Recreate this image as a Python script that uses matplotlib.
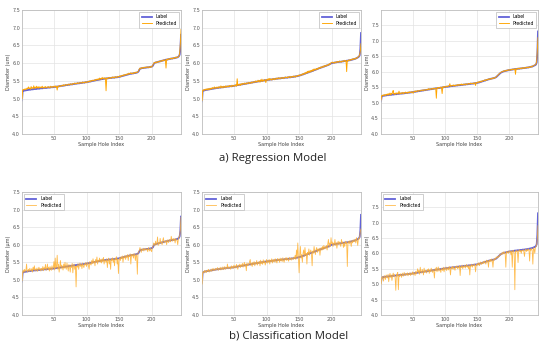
import matplotlib
matplotlib.use("Agg")
import matplotlib.pyplot as plt
import numpy as np

# ---------------- data ----------------
label_a = [
 4.95, 5.21, 5.22, 5.22, 5.23, 5.23, 5.23, 5.24, 5.24, 5.24,
 5.25, 5.25, 5.25, 5.25, 5.26, 5.26, 5.26, 5.26, 5.27, 5.27,
 5.27, 5.27, 5.27, 5.28, 5.28, 5.28, 5.28, 5.28, 5.29, 5.29,
 5.29, 5.29, 5.29, 5.30, 5.30, 5.30, 5.30, 5.30, 5.30, 5.31,
 5.31, 5.31, 5.31, 5.31, 5.32, 5.32, 5.32, 5.32, 5.32, 5.33,
 5.33, 5.33, 5.33, 5.34, 5.34, 5.34, 5.34, 5.35, 5.35, 5.35,
 5.36, 5.36, 5.36, 5.36, 5.37, 5.37, 5.37, 5.38, 5.38, 5.38,
 5.38, 5.39, 5.39, 5.39, 5.40, 5.40, 5.40, 5.40, 5.41, 5.41,
 5.41, 5.42, 5.42, 5.42, 5.42, 5.43, 5.43, 5.43, 5.43, 5.44,
 5.44, 5.44, 5.44, 5.45, 5.45, 5.45, 5.45, 5.46, 5.46, 5.46,
 5.47, 5.47, 5.47, 5.48, 5.48, 5.48, 5.49, 5.49, 5.50, 5.50,
 5.50, 5.51, 5.51, 5.52, 5.52, 5.52, 5.53, 5.53, 5.53, 5.54,
 5.54, 5.54, 5.55, 5.55, 5.55, 5.56, 5.56, 5.56, 5.56, 5.57,
 5.57, 5.57, 5.57, 5.58, 5.58, 5.58, 5.58, 5.58, 5.59, 5.59,
 5.59, 5.59, 5.59, 5.60, 5.60, 5.60, 5.60, 5.61, 5.61, 5.61,
 5.62, 5.62, 5.63, 5.63, 5.64, 5.64, 5.65, 5.65, 5.66, 5.66,
 5.67, 5.67, 5.68, 5.68, 5.69, 5.69, 5.70, 5.70, 5.70, 5.71,
 5.71, 5.71, 5.72, 5.72, 5.72, 5.73, 5.73, 5.74, 5.75, 5.77,
 5.81, 5.84, 5.85, 5.85, 5.86, 5.86, 5.86, 5.87, 5.87, 5.87,
 5.87, 5.88, 5.88, 5.88, 5.88, 5.89, 5.89, 5.89, 5.90, 5.90,
 5.91, 5.93, 5.97, 6.00, 6.01, 6.02, 6.02, 6.03, 6.03, 6.04,
 6.04, 6.05, 6.05, 6.06, 6.06, 6.07, 6.07, 6.08, 6.08, 6.09,
 6.09, 6.10, 6.10, 6.10, 6.11, 6.11, 6.12, 6.12, 6.12, 6.13,
 6.13, 6.13, 6.14, 6.14, 6.14, 6.15, 6.15, 6.16, 6.16, 6.17,
 6.18, 6.20, 6.24, 6.40, 6.80]

label_b = [
 4.92, 5.21, 5.22, 5.23, 5.23, 5.24, 5.24, 5.25, 5.25, 5.25,
 5.26, 5.26, 5.26, 5.27, 5.27, 5.27, 5.28, 5.28, 5.28, 5.29,
 5.29, 5.29, 5.30, 5.30, 5.30, 5.30, 5.31, 5.31, 5.31, 5.31,
 5.32, 5.32, 5.32, 5.32, 5.33, 5.33, 5.33, 5.33, 5.34, 5.34,
 5.34, 5.34, 5.34, 5.35, 5.35, 5.35, 5.35, 5.35, 5.36, 5.36,
 5.36, 5.37, 5.37, 5.37, 5.38, 5.38, 5.38, 5.39, 5.39, 5.39,
 5.40, 5.40, 5.40, 5.41, 5.41, 5.41, 5.42, 5.42, 5.42, 5.43,
 5.43, 5.43, 5.44, 5.44, 5.44, 5.45, 5.45, 5.45, 5.46, 5.46,
 5.46, 5.47, 5.47, 5.47, 5.48, 5.48, 5.48, 5.49, 5.49, 5.49,
 5.50, 5.50, 5.50, 5.50, 5.51, 5.51, 5.51, 5.52, 5.52, 5.52,
 5.52, 5.53, 5.53, 5.53, 5.53, 5.54, 5.54, 5.54, 5.54, 5.55,
 5.55, 5.55, 5.55, 5.56, 5.56, 5.56, 5.56, 5.57, 5.57, 5.57,
 5.57, 5.57, 5.58, 5.58, 5.58, 5.58, 5.58, 5.59, 5.59, 5.59,
 5.59, 5.59, 5.60, 5.60, 5.60, 5.60, 5.60, 5.61, 5.61, 5.61,
 5.61, 5.62, 5.62, 5.62, 5.63, 5.63, 5.63, 5.64, 5.64, 5.65,
 5.65, 5.66, 5.66, 5.67, 5.68, 5.68, 5.69, 5.70, 5.70, 5.71,
 5.72, 5.72, 5.73, 5.74, 5.74, 5.75, 5.76, 5.76, 5.77, 5.78,
 5.78, 5.79, 5.80, 5.81, 5.81, 5.82, 5.83, 5.83, 5.84, 5.85,
 5.86, 5.86, 5.87, 5.88, 5.88, 5.89, 5.90, 5.90, 5.91, 5.92,
 5.92, 5.93, 5.94, 5.94, 5.95, 5.96, 5.97, 5.98, 5.99, 6.00,
 6.00, 6.01, 6.01, 6.01, 6.02, 6.02, 6.02, 6.03, 6.03, 6.03,
 6.03, 6.04, 6.04, 6.04, 6.04, 6.05, 6.05, 6.05, 6.06, 6.06,
 6.06, 6.06, 6.07, 6.07, 6.07, 6.08, 6.08, 6.08, 6.09, 6.09,
 6.10, 6.10, 6.11, 6.11, 6.12, 6.12, 6.13, 6.14, 6.15, 6.16,
 6.17, 6.19, 6.22, 6.40, 6.85]

label_c = [
 5.05, 5.20, 5.22, 5.23, 5.23, 5.23, 5.24, 5.24, 5.24, 5.25,
 5.25, 5.25, 5.25, 5.26, 5.26, 5.26, 5.26, 5.27, 5.27, 5.27,
 5.27, 5.28, 5.28, 5.28, 5.28, 5.29, 5.29, 5.29, 5.29, 5.30,
 5.30, 5.30, 5.30, 5.30, 5.31, 5.31, 5.31, 5.31, 5.32, 5.32,
 5.32, 5.32, 5.33, 5.33, 5.33, 5.33, 5.34, 5.34, 5.34, 5.35,
 5.35, 5.35, 5.36, 5.36, 5.36, 5.37, 5.37, 5.37, 5.38, 5.38,
 5.38, 5.39, 5.39, 5.39, 5.40, 5.40, 5.40, 5.41, 5.41, 5.41,
 5.42, 5.42, 5.42, 5.43, 5.43, 5.43, 5.44, 5.44, 5.44, 5.45,
 5.45, 5.45, 5.46, 5.46, 5.46, 5.47, 5.47, 5.47, 5.48, 5.48,
 5.48, 5.48, 5.49, 5.49, 5.49, 5.50, 5.50, 5.50, 5.51, 5.51,
 5.51, 5.52, 5.52, 5.52, 5.52, 5.53, 5.53, 5.53, 5.54, 5.54,
 5.54, 5.54, 5.55, 5.55, 5.55, 5.55, 5.56, 5.56, 5.56, 5.56,
 5.57, 5.57, 5.57, 5.57, 5.58, 5.58, 5.58, 5.58, 5.59, 5.59,
 5.59, 5.59, 5.60, 5.60, 5.60, 5.60, 5.61, 5.61, 5.61, 5.61,
 5.62, 5.62, 5.62, 5.62, 5.63, 5.63, 5.63, 5.64, 5.64, 5.64,
 5.65, 5.65, 5.66, 5.66, 5.67, 5.68, 5.68, 5.69, 5.70, 5.70,
 5.71, 5.72, 5.72, 5.73, 5.74, 5.74, 5.75, 5.76, 5.76, 5.77,
 5.77, 5.78, 5.78, 5.79, 5.79, 5.80, 5.80, 5.81, 5.82, 5.83,
 5.85, 5.87, 5.89, 5.91, 5.93, 5.95, 5.97, 5.98, 5.99, 6.00,
 6.01, 6.02, 6.02, 6.03, 6.03, 6.04, 6.04, 6.05, 6.05, 6.06,
 6.06, 6.06, 6.07, 6.07, 6.07, 6.08, 6.08, 6.08, 6.09, 6.09,
 6.09, 6.09, 6.10, 6.10, 6.10, 6.10, 6.11, 6.11, 6.11, 6.11,
 6.12, 6.12, 6.12, 6.12, 6.13, 6.13, 6.13, 6.14, 6.14, 6.14,
 6.15, 6.15, 6.16, 6.16, 6.17, 6.17, 6.18, 6.19, 6.20, 6.21,
 6.22, 6.24, 6.30, 6.60, 7.30]

pred_reg_a = [
 5.00, 5.24, 5.26, 5.24, 5.27, 5.25, 5.28, 5.26, 5.30, 5.27,
 5.33, 5.28, 5.30, 5.26, 5.34, 5.29, 5.31, 5.27, 5.36, 5.30,
 5.32, 5.28, 5.35, 5.30, 5.33, 5.29, 5.34, 5.31, 5.30, 5.33,
 5.30, 5.35, 5.31, 5.29, 5.33, 5.31, 5.34, 5.30, 5.32, 5.33,
 5.31, 5.34, 5.32, 5.30, 5.35, 5.33, 5.31, 5.34, 5.32, 5.35,
 5.33, 5.36, 5.32, 5.34, 5.24, 5.35, 5.33, 5.37, 5.35, 5.34,
 5.37, 5.35, 5.38, 5.36, 5.39, 5.36, 5.38, 5.40, 5.37, 5.39,
 5.38, 5.41, 5.39, 5.38, 5.42, 5.40, 5.41, 5.39, 5.43, 5.41,
 5.42, 5.44, 5.41, 5.43, 5.42, 5.45, 5.42, 5.44, 5.43, 5.46,
 5.44, 5.45, 5.43, 5.47, 5.45, 5.46, 5.44, 5.48, 5.46, 5.45,
 5.48, 5.46, 5.49, 5.47, 5.50, 5.48, 5.51, 5.49, 5.52, 5.50,
 5.51, 5.53, 5.50, 5.54, 5.52, 5.55, 5.53, 5.56, 5.52, 5.58,
 5.55, 5.57, 5.54, 5.60, 5.56, 5.58, 5.55, 5.59, 5.57, 5.22,
 5.58, 5.56, 5.59, 5.57, 5.60, 5.58, 5.57, 5.60, 5.58, 5.61,
 5.59, 5.61, 5.58, 5.62, 5.60, 5.61, 5.59, 5.63, 5.61, 5.62,
 5.64, 5.61, 5.65, 5.63, 5.66, 5.64, 5.67, 5.65, 5.68, 5.66,
 5.69, 5.67, 5.70, 5.68, 5.72, 5.69, 5.71, 5.73, 5.70, 5.72,
 5.70, 5.73, 5.71, 5.74, 5.72, 5.75, 5.73, 5.74, 5.76, 5.79,
 5.83, 5.86, 5.84, 5.87, 5.85, 5.88, 5.86, 5.88, 5.86, 5.89,
 5.88, 5.87, 5.90, 5.88, 5.89, 5.87, 5.90, 5.88, 5.91, 5.89,
 5.92, 5.95, 5.99, 6.02, 6.00, 6.03, 6.01, 6.04, 6.02, 6.05,
 6.03, 6.06, 6.04, 6.07, 6.05, 6.08, 6.06, 6.09, 6.07, 6.10,
 6.08, 5.86, 6.11, 6.09, 6.12, 6.10, 6.13, 6.11, 6.14, 6.12,
 6.14, 6.12, 6.15, 6.13, 6.16, 6.14, 6.17, 6.15, 6.17, 6.16,
 6.19, 6.21, 6.28, 6.55, 6.95]

pred_reg_b = [
 4.95, 5.23, 5.25, 5.22, 5.26, 5.24, 5.27, 5.25, 5.28, 5.24,
 5.28, 5.25, 5.29, 5.26, 5.30, 5.27, 5.31, 5.28, 5.30, 5.33,
 5.28, 5.31, 5.29, 5.33, 5.31, 5.29, 5.34, 5.32, 5.30, 5.36,
 5.31, 5.34, 5.30, 5.35, 5.33, 5.31, 5.36, 5.32, 5.35, 5.33,
 5.36, 5.33, 5.37, 5.34, 5.36, 5.33, 5.38, 5.35, 5.37, 5.34,
 5.38, 5.36, 5.39, 5.35, 5.56, 5.37, 5.40, 5.38, 5.41, 5.37,
 5.42, 5.39, 5.43, 5.40, 5.42, 5.44, 5.40, 5.43, 5.41, 5.45,
 5.42, 5.44, 5.46, 5.42, 5.45, 5.43, 5.47, 5.44, 5.46, 5.48,
 5.45, 5.47, 5.50, 5.46, 5.49, 5.47, 5.52, 5.48, 5.51, 5.46,
 5.53, 5.49, 5.55, 5.48, 5.52, 5.50, 5.54, 5.51, 5.45, 5.53,
 5.55, 5.51, 5.56, 5.52, 5.57, 5.53, 5.55, 5.52, 5.56, 5.54,
 5.57, 5.53, 5.56, 5.54, 5.58, 5.55, 5.57, 5.59, 5.55, 5.58,
 5.56, 5.59, 5.57, 5.60, 5.58, 5.56, 5.60, 5.58, 5.61, 5.59,
 5.60, 5.58, 5.62, 5.59, 5.61, 5.63, 5.59, 5.62, 5.60, 5.63,
 5.61, 5.64, 5.62, 5.60, 5.64, 5.62, 5.65, 5.63, 5.66, 5.64,
 5.67, 5.65, 5.68, 5.66, 5.70, 5.67, 5.71, 5.69, 5.73, 5.70,
 5.75, 5.71, 5.77, 5.73, 5.78, 5.74, 5.79, 5.75, 5.80, 5.77,
 5.82, 5.78, 5.84, 5.80, 5.83, 5.81, 5.85, 5.82, 5.86, 5.84,
 5.88, 5.85, 5.89, 5.87, 5.90, 5.88, 5.92, 5.89, 5.93, 5.91,
 5.94, 5.92, 5.95, 5.93, 5.97, 5.95, 5.99, 5.97, 6.01, 6.02,
 6.03, 6.00, 6.02, 6.00, 6.03, 6.01, 6.04, 6.02, 6.05, 6.02,
 6.04, 6.06, 6.03, 6.05, 6.03, 6.06, 6.04, 6.07, 6.05, 6.08,
 6.05, 6.07, 5.76, 6.08, 6.06, 6.09, 6.07, 6.10, 6.08, 6.11,
 6.09, 6.12, 6.10, 6.13, 6.11, 6.14, 6.12, 6.15, 6.14, 6.17,
 6.18, 6.20, 6.24, 6.35, 6.55]

pred_reg_c = [
 5.10, 5.23, 5.25, 5.22, 5.26, 5.24, 5.27, 5.23, 5.28, 5.26,
 5.29, 5.24, 5.30, 5.27, 5.32, 5.25, 5.31, 5.28, 5.36, 5.40,
 5.28, 5.31, 5.27, 5.32, 5.30, 5.33, 5.28, 5.31, 5.38, 5.29,
 5.32, 5.29, 5.33, 5.31, 5.34, 5.29, 5.33, 5.32, 5.35, 5.31,
 5.34, 5.31, 5.35, 5.32, 5.36, 5.33, 5.35, 5.33, 5.37, 5.34,
 5.31, 5.36, 5.38, 5.35, 5.39, 5.36, 5.38, 5.40, 5.37, 5.39,
 5.40, 5.38, 5.41, 5.40, 5.42, 5.39, 5.41, 5.43, 5.40, 5.42,
 5.43, 5.41, 5.44, 5.42, 5.46, 5.43, 5.45, 5.43, 5.46, 5.44,
 5.47, 5.44, 5.47, 5.45, 5.48, 5.46, 5.15, 5.49, 5.47, 5.50,
 5.47, 5.50, 5.48, 5.51, 5.49, 5.30, 5.52, 5.50, 5.53, 5.50,
 5.53, 5.51, 5.54, 5.52, 5.55, 5.53, 5.56, 5.62, 5.53, 5.56,
 5.54, 5.57, 5.55, 5.58, 5.54, 5.57, 5.55, 5.58, 5.56, 5.59,
 5.56, 5.59, 5.57, 5.60, 5.58, 5.61, 5.57, 5.60, 5.58, 5.61,
 5.60, 5.58, 5.62, 5.59, 5.61, 5.60, 5.63, 5.60, 5.62, 5.64,
 5.61, 5.63, 5.62, 5.64, 5.61, 5.65, 5.63, 5.56, 5.66, 5.64,
 5.66, 5.68, 5.65, 5.69, 5.67, 5.70, 5.68, 5.71, 5.69, 5.72,
 5.72, 5.74, 5.71, 5.75, 5.73, 5.76, 5.74, 5.77, 5.75, 5.78,
 5.76, 5.79, 5.77, 5.80, 5.78, 5.81, 5.79, 5.82, 5.81, 5.84,
 5.86, 5.88, 5.90, 5.92, 5.95, 5.96, 5.98, 5.99, 6.01, 6.00,
 6.03, 6.01, 6.04, 6.02, 6.05, 6.03, 6.06, 6.04, 6.07, 6.05,
 6.07, 6.05, 6.08, 6.06, 6.09, 6.07, 6.09, 6.07, 6.10, 5.92,
 6.10, 6.08, 6.11, 6.09, 6.12, 6.09, 6.12, 6.10, 6.13, 6.10,
 6.13, 6.11, 6.14, 6.11, 6.14, 6.12, 6.15, 6.13, 6.15, 6.13,
 6.16, 6.14, 6.17, 6.15, 6.18, 6.16, 6.19, 6.20, 6.21, 6.22,
 6.23, 6.26, 6.35, 6.70, 7.10]

pred_cls_a = [
 4.98, 5.22, 5.28, 5.20, 5.30, 5.24, 5.27, 5.45, 5.22, 5.26,
 5.30, 5.23, 5.33, 5.27, 5.25, 5.32, 5.22, 5.36, 5.28, 5.40,
 5.25, 5.31, 5.27, 5.34, 5.24, 5.30, 5.36, 5.28, 5.32, 5.25,
 5.33, 5.28, 5.38, 5.26, 5.35, 5.30, 5.44, 5.27, 5.33, 5.45,
 5.29, 5.36, 5.25, 5.38, 5.31, 5.27, 5.40, 5.30, 5.35, 5.52,
 5.28, 5.62, 5.33, 5.40, 5.70, 5.30, 5.45, 5.22, 5.38, 5.55,
 5.31, 5.42, 5.36, 5.28, 5.45, 5.33, 5.50, 5.35, 5.30, 5.48,
 5.36, 5.25, 5.44, 5.38, 5.22, 5.42, 5.35, 5.47, 5.20, 5.40,
 5.45, 5.30, 5.38, 4.80, 5.40, 5.36, 5.46, 5.30, 5.42, 5.48,
 5.38, 5.44, 5.32, 5.48, 5.40, 5.35, 5.46, 5.42, 5.50, 5.38,
 5.44, 5.50, 5.40, 5.30, 5.52, 5.45, 5.42, 5.55, 5.46, 5.60,
 5.48, 5.53, 5.40, 5.58, 5.50, 5.65, 5.45, 5.56, 5.52, 5.62,
 5.50, 5.58, 5.48, 5.60, 5.52, 5.64, 5.45, 5.57, 5.55, 5.50,
 5.60, 5.35, 5.56, 5.62, 5.45, 5.58, 5.30, 5.60, 5.55, 5.63,
 5.50, 5.59, 5.40, 5.62, 5.57, 5.66, 5.45, 5.60, 5.18, 5.58,
 5.63, 5.55, 5.66, 5.60, 5.68, 5.50, 5.66, 5.62, 5.70, 5.58,
 5.68, 5.64, 5.72, 5.55, 5.70, 5.66, 5.74, 5.45, 5.72, 5.68,
 5.73, 5.62, 5.75, 5.70, 5.55, 5.74, 5.68, 5.16, 5.76, 5.80,
 5.83, 5.92, 5.86, 5.78, 5.88, 5.84, 5.90, 5.82, 5.88, 5.85,
 5.90, 5.85, 5.88, 5.80, 5.92, 5.87, 5.82, 5.90, 5.84, 5.80,
 5.92, 5.95, 6.05, 6.02, 5.97, 6.10, 6.00, 6.04, 6.22, 5.98,
 6.06, 6.02, 6.18, 6.04, 6.08, 6.00, 6.12, 6.20, 6.05, 6.10,
 6.08, 6.12, 6.00, 6.14, 6.10, 6.06, 6.15, 6.12, 6.08, 6.24,
 6.14, 6.10, 6.18, 6.12, 6.16, 6.05, 6.18, 6.14, 6.12, 6.00,
 6.18, 6.22, 6.25, 6.42, 6.78]

pred_cls_b = [
 4.88, 5.20, 5.24, 5.19, 5.27, 5.22, 5.26, 5.21, 5.28, 5.24,
 5.30, 5.22, 5.27, 5.25, 5.31, 5.24, 5.29, 5.33, 5.26, 5.30,
 5.27, 5.33, 5.28, 5.31, 5.35, 5.27, 5.32, 5.30, 5.36, 5.28,
 5.34, 5.30, 5.37, 5.29, 5.33, 5.38, 5.30, 5.35, 5.32, 5.45,
 5.31, 5.37, 5.33, 5.36, 5.30, 5.40, 5.34, 5.38, 5.32, 5.42,
 5.35, 5.40, 5.33, 5.44, 5.37, 5.30, 5.42, 5.38, 5.45, 5.35,
 5.43, 5.38, 5.47, 5.36, 5.42, 5.50, 5.38, 5.45, 5.26, 5.48,
 5.40, 5.46, 5.42, 5.52, 5.58, 5.41, 5.48, 5.38, 5.50, 5.44,
 5.52, 5.40, 5.49, 5.45, 5.55, 5.42, 5.50, 5.47, 5.53, 5.40,
 5.56, 5.46, 5.52, 5.44, 5.57, 5.48, 5.54, 5.42, 5.50, 5.58,
 5.47, 5.55, 5.50, 5.58, 5.45, 5.56, 5.52, 5.60, 5.48, 5.57,
 5.52, 5.59, 5.50, 5.60, 5.54, 5.48, 5.61, 5.55, 5.59, 5.50,
 5.62, 5.54, 5.60, 5.52, 5.63, 5.56, 5.50, 5.61, 5.57, 5.64,
 5.55, 5.62, 5.58, 5.53, 5.64, 5.59, 5.62, 5.56, 5.63, 5.60,
 5.58, 5.65, 5.60, 5.70, 5.58, 5.85, 5.62, 6.05, 5.60, 5.20,
 5.68, 5.95, 5.62, 5.72, 5.50, 5.75, 5.85, 5.66, 5.92, 5.70,
 5.75, 5.45, 5.78, 5.72, 5.88, 5.70, 5.80, 5.85, 5.74, 5.40,
 5.82, 5.76, 5.95, 5.80, 5.72, 5.86, 5.92, 5.78, 5.88, 5.82,
 5.90, 5.70, 5.88, 5.92, 5.84, 5.95, 5.86, 5.98, 5.88, 5.94,
 5.90, 5.98, 5.85, 6.02, 6.15, 5.92, 6.05, 5.95, 6.20, 6.02,
 6.08, 5.95, 6.05, 6.00, 6.15, 5.98, 6.06, 5.90, 6.04, 6.10,
 6.00, 6.08, 6.02, 5.95, 6.15, 6.04, 6.08, 5.92, 6.06, 5.95,
 6.10, 6.04, 6.08, 5.38, 6.06, 6.10, 6.02, 6.12, 6.06, 5.95,
 6.12, 6.05, 6.14, 6.08, 6.10, 6.16, 6.05, 6.20, 6.12, 5.98,
 6.18, 6.16, 6.22, 6.38, 6.45]

pred_cls_c = [
 5.00, 5.18, 5.25, 5.20, 5.10, 5.28, 5.22, 5.15, 5.30, 5.24,
 5.20, 5.32, 5.08, 5.27, 5.35, 5.22, 5.30, 5.12, 5.28, 5.36,
 5.25, 5.31, 5.20, 4.80, 5.33, 5.27, 5.38, 4.82, 5.30, 5.25,
 5.34, 5.28, 5.22, 5.36, 5.30, 5.26, 5.38, 5.32, 5.28, 5.35,
 5.30, 5.37, 5.27, 5.34, 5.31, 5.38, 5.28, 5.35, 5.32, 5.40,
 5.30, 5.38, 5.34, 5.28, 5.42, 5.33, 5.40, 5.50, 5.36, 5.45,
 5.32, 5.55, 5.40, 5.36, 5.48, 5.42, 5.30, 5.52, 5.38, 5.45,
 5.40, 5.36, 5.48, 5.42, 5.50, 5.35, 5.46, 5.40, 5.52, 5.44,
 5.38, 5.48, 5.42, 5.20, 5.50, 5.44, 5.55, 5.40, 5.48, 5.56,
 5.42, 5.50, 5.46, 5.38, 5.52, 5.48, 5.44, 5.55, 5.40, 5.52,
 5.48, 5.56, 5.44, 5.50, 5.54, 5.46, 5.58, 5.50, 5.30, 5.55,
 5.50, 5.58, 5.48, 5.56, 5.52, 5.45, 5.58, 5.54, 5.60, 5.50,
 5.56, 5.52, 5.60, 5.28, 5.57, 5.54, 5.62, 5.50, 5.58, 5.55,
 5.62, 5.52, 5.58, 5.64, 5.55, 5.60, 5.50, 5.63, 5.30, 5.60,
 5.58, 5.65, 5.55, 5.62, 5.60, 5.66, 5.58, 5.40, 5.64, 5.60,
 5.67, 5.62, 5.70, 5.60, 5.68, 5.72, 5.64, 5.70, 5.66, 5.74,
 5.68, 5.75, 5.70, 5.65, 5.78, 5.72, 5.76, 5.55, 5.78, 5.74,
 5.80, 5.72, 5.82, 5.76, 5.55, 5.80, 5.78, 5.84, 5.80, 5.88,
 5.84, 5.90, 5.86, 5.92, 5.90, 5.98, 5.95, 5.96, 6.02, 5.98,
 6.05, 5.98, 6.04, 6.00, 5.55, 6.06, 6.02, 6.05, 6.00, 6.08,
 6.04, 6.08, 5.95, 6.06, 5.55, 6.10, 6.05, 6.02, 4.82, 6.08,
 6.04, 6.10, 6.06, 5.70, 6.08, 6.12, 6.05, 6.10, 6.00, 6.10,
 6.08, 6.12, 6.05, 5.90, 6.10, 6.14, 6.06, 6.12, 6.08, 6.15,
 6.10, 5.75, 6.14, 6.10, 6.16, 6.08, 5.65, 6.18, 6.14, 6.00,
 6.20, 6.22, 6.28, 6.50, 6.90]

x_ticks = [50, 100, 150, 200]
y_ticks = [4.0, 4.5, 5.0, 5.5, 6.0, 6.5, 7.0, 7.5]
titles = ["a) Regression Model", "b) Classification Model"]

# ---------------- figure ----------------
W, H = 539, 347
fig = plt.figure(figsize=(W / 100, H / 100), dpi=100)

def rect(l, t, r, b):
    return [l / W, 1 - b / H, (r - l) / W, (b - t) / H]

panels = [
    (rect(22, 10, 181, 134), label_a, pred_reg_a, 7.5, "upper right", "Diameter (um)", False),
    (rect(202, 10, 361, 134), label_b, pred_reg_b, 7.5, "upper right", "Diameter (um)", False),
    (rect(381, 10, 538, 134), label_c, pred_reg_c, 7.99, "upper right", "Diameter (um)", False),
    (rect(22, 192, 181, 315), label_a, pred_cls_a, 7.5, "upper left", "Diameter (μm)", True),
    (rect(202, 192, 361, 315), label_b, pred_cls_b, 7.5, "upper left", "Diameter (μm)", True),
    (rect(381, 192, 538, 315), label_c, pred_cls_c, 7.99, "upper left", "Diameter (μm)", True),
]

blue = "#6262d8"
orange = "#ffa500"
fs = 3.5

for pos, lab, pred, ytop, loc, ylab, cls in panels:
    ax = fig.add_axes(pos)
    xl = np.arange(1, len(lab) + 1)
    xp = np.arange(1, len(pred) + 1)
    ax.plot(xl, lab, color=blue, lw=1.3, label="Label", zorder=2)
    if cls:
        ax.plot(xp, pred, color="#ffb02e", lw=0.6, alpha=0.85, label="Predicted", zorder=3)
    else:
        ax.plot(xp, pred, color=orange, lw=0.65, label="Predicted", zorder=3)
    ax.set_xlim(1, len(lab))
    ax.set_ylim(4.0, ytop)
    ax.set_xticks(x_ticks)
    ax.set_yticks(y_ticks)
    ax.set_yticklabels([f"{v:.1f}" for v in y_ticks])
    ax.grid(True, color="#e3e3e3", lw=0.5)
    ax.set_axisbelow(True)
    for s in ax.spines.values():
        s.set_color("#bdbdbd")
        s.set_linewidth(0.6)
    ax.tick_params(labelsize=fs, length=0, pad=1.5, colors="#555555")
    ax.set_xlabel("Sample Hole Index", fontsize=fs, labelpad=0.8, color="#444444")
    ax.set_ylabel(ylab, fontsize=fs, labelpad=1.0, color="#444444")
    leg = ax.legend(loc=loc, fontsize=3.3, handlelength=2.2, borderpad=0.45,
                    labelspacing=0.35, handletextpad=0.8, fancybox=False,
                    framealpha=1.0, borderaxespad=0.5)
    leg.get_frame().set_edgecolor("#bbbbbb")
    leg.get_frame().set_linewidth(0.5)

fig.text(273 / W, 1 - 158 / H, titles[0], ha="center", va="center",
         fontsize=8.2, family="Open Sans", color="#222222")
fig.text(289 / W, 1 - 336 / H, titles[1], ha="center", va="center",
         fontsize=8.2, family="Open Sans", color="#222222")

fig.savefig("out.png", dpi=100)
